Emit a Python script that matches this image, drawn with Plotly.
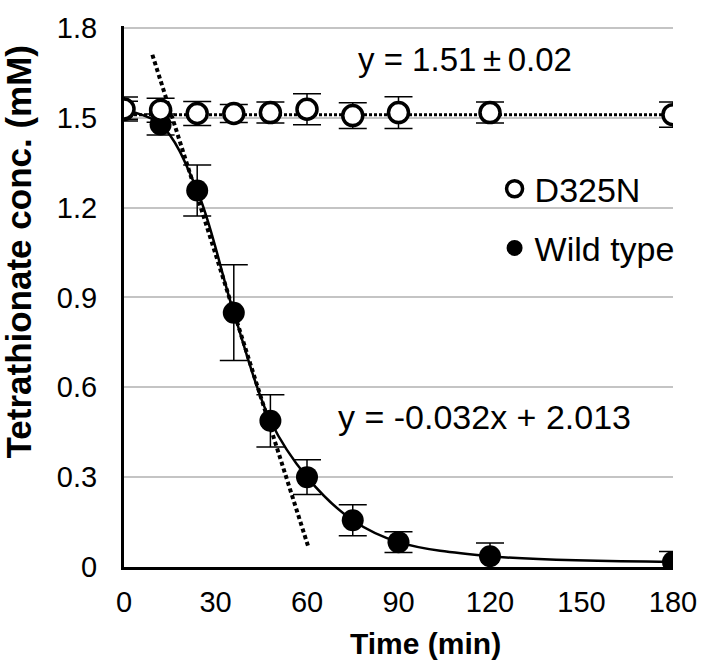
import plotly.graph_objects as go

# ---- data ----
time_min = [0, 12, 24, 36, 48, 60, 75, 90, 120, 180]

wt_conc = [1.525, 1.477, 1.257, 0.849, 0.488, 0.300, 0.156, 0.083, 0.036, 0.017]
wt_err = [0.03, 0.035, 0.085, 0.16, 0.087, 0.058, 0.052, 0.035, 0.044, 0.035]

d325n_conc = [1.529, 1.525, 1.514, 1.514, 1.517, 1.528, 1.507, 1.517, 1.517, 1.510]
d325n_err = [0.04, 0.04, 0.04, 0.03, 0.035, 0.052, 0.043, 0.053, 0.035, 0.042]

# trendlines (end points)
wt_trend_x = [9.3, 60.5]
wt_trend_y = [1.71, 0.065]
d325n_trend_x = [0, 180]
d325n_trend_y = [1.51, 1.51]

x_ticks = [0, 30, 60, 90, 120, 150, 180]
y_ticks = [0, 0.3, 0.6, 0.9, 1.2, 1.5, 1.8]
y_ticktext = ["0", "0.3", "0.6", "0.9", "1.2", "1.5", "1.8"]

FONT = "Liberation Sans, Arial, sans-serif"

fig = go.Figure()

# Wild type smoothed curve (no legend entry)
fig.add_trace(go.Scatter(
    x=time_min, y=wt_conc, mode="lines", showlegend=False, hoverinfo="skip",
    line=dict(color="black", width=2.5, shape="spline", smoothing=1),
))
# Wild type linear trendline
fig.add_trace(go.Scatter(
    x=wt_trend_x, y=wt_trend_y, mode="lines", showlegend=False,
    line=dict(color="black", width=4, dash="4px,3px"), hoverinfo="skip",
))
# Wild type points
fig.add_trace(go.Scatter(
    x=time_min, y=wt_conc, mode="markers", name="Wild type",
    marker=dict(symbol="circle", size=22, color="black", line=dict(color="black", width=0)),
    error_y=dict(type="data", array=wt_err, visible=True, color="black", thickness=1.5, width=14),
    legendgroup="wt", legendrank=2,
))
# D325N trendline
fig.add_trace(go.Scatter(
    x=d325n_trend_x, y=d325n_trend_y, mode="lines", showlegend=False,
    line=dict(color="black", width=3, dash="3px,2px"), hoverinfo="skip",
))
# D325N points
fig.add_trace(go.Scatter(
    x=time_min, y=d325n_conc, mode="markers", name="D325N",
    marker=dict(symbol="circle", size=20, color="white", line=dict(color="black", width=3.5)),
    error_y=dict(type="data", array=d325n_err, visible=True, color="black", thickness=1.5, width=14),
    legendgroup="d", legendrank=1,
))

fig.add_annotation(x=111.7, y=1.695, xref="x", yref="y", text="y = 1.51\u2009\u00b1\u20090.02",
                   showarrow=False, font=dict(family=FONT, size=33, color="black"),
                   xanchor="center", yanchor="middle")
fig.add_annotation(x=118.2, y=0.50, xref="x", yref="y", text="y = -0.032x + 2.013",
                   showarrow=False, font=dict(family=FONT, size=34, color="black"),
                   xanchor="center", yanchor="middle")

# axis titles as annotations (offset as in the reference)
fig.add_annotation(x=0.55, y=-0.142, xref="paper", yref="paper", text="<b>Time (min)</b>",
                   showarrow=False, font=dict(family=FONT, size=30, color="black"),
                   xanchor="center", yanchor="middle")
fig.add_annotation(x=-0.1914, y=0.583, xref="paper", yref="paper",
                   text="<b>Tetrathionate conc. (mM)</b>", textangle=-90,
                   showarrow=False, font=dict(family=FONT, size=35, color="black"),
                   xanchor="center", yanchor="middle")

fig.update_layout(
    width=709, height=664,
    margin=dict(l=124, r=26, t=13, b=97),
    paper_bgcolor="white", plot_bgcolor="white",
    font=dict(family=FONT, size=29, color="black"),
    showlegend=True,
    legend=dict(x=0.675, y=0.752, xanchor="left", yanchor="top",
                bgcolor="rgba(0,0,0,0)", font=dict(family=FONT, size=34, color="black"),
                traceorder="grouped", tracegroupgap=12, itemsizing="trace"),
)

fig.update_xaxes(
    range=[0, 180], tickvals=x_ticks, ticktext=[str(v) for v in x_ticks],
    showgrid=False, zeroline=False, showline=True, linecolor="black", linewidth=3,
    ticks="", ticklabelstandoff=7, ticklabeloverflow="allow",
    tickfont=dict(family=FONT, size=29, color="black"),
)
fig.update_yaxes(
    range=[0, 1.806], tickvals=y_ticks, ticktext=y_ticktext,
    showgrid=True, gridcolor="#c4c4c4", gridwidth=2, zeroline=False,
    showline=True, linecolor="black", linewidth=3,
    ticks="", ticklabelstandoff=18, ticklabeloverflow="allow",
    tickfont=dict(family=FONT, size=29, color="black"),
)

fig.write_html("out.html", config={"displayModeBar": False},
               post_script="document.body.style.margin='0px';")
